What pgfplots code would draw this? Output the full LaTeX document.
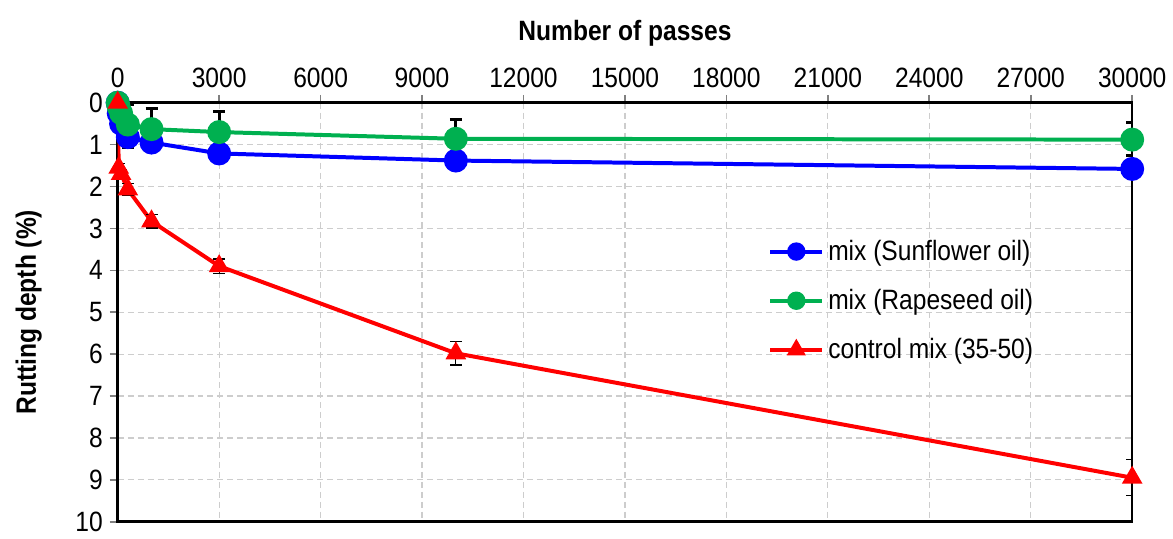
\documentclass[border=0pt]{standalone}
\usepackage{fontspec}
\setmainfont[FakeStretch=0.88]{Liberation Sans}
\usepackage{pgfplots}
\pgfplotsset{compat=1.18}
\definecolor{sblue}{RGB}{0,0,255}
\definecolor{sgreen}{RGB}{0,176,80}
\definecolor{sred}{RGB}{255,0,0}
\definecolor{gridgray}{RGB}{205,205,205}
\begin{document}
\begin{tikzpicture}[font=\fontsize{14}{16}\selectfont]
\begin{axis}[
  name=ax,
  scale only axis,
  width=508.5pt, height=210pt,
  xmin=0, xmax=30000, ymin=0, ymax=10,
  y dir=reverse,
  xtick={0,3000,...,30000},
  ytick={0,1,...,10},
  xtick pos=right, xticklabel pos=right,
  ytick pos=left,
  tick align=outside,
  major tick length=4pt,
  tick style={gray, line width=0.8pt},
  /pgf/number format/1000 sep={},
  /pgf/number format/assume math mode=true,
  scaled x ticks=false,
  grid=major,
  major grid style={gridgray, dash pattern=on 3pt off 2pt, line width=0.6pt},
  axis line style={black, line width=1.3pt},
  xlabel={\textbf{Number of passes}},
  ylabel={\textbf{Rutting depth (\%)}},
  xlabel style={yshift=4pt},
  ylabel style={yshift=10pt},
  legend style={draw=none, fill=none, at={(axis description cs:0.641,0.683)}, anchor=north west,
    row sep=9pt, font=\fontsize{14}{16}\selectfont, inner sep=0pt},
  legend cell align=left,
  legend image code/.code={\draw[mark repeat=2,mark phase=2,#1,mark size=3.6pt] plot coordinates {(0pt,0pt)(13pt,0pt)(26pt,0pt)};},
]
\addplot[sblue, line width=2pt, mark=*, mark size=5pt, mark options={solid},
  error bars/.cd, y dir=both, y explicit,
  error bar style={black, line width=1.5pt},
  error mark options={rotate=90, black, mark size=3pt, line width=1.5pt}]
  coordinates {
  (0,0) (30,0.25) (100,0.5) (300,0.82) +=(0,0.25) -=(0,0)
  (1000,0.95) +=(0,0) -=(0,0.3) (3000,1.21) +=(0,0) -=(0,0.3)
  (10000,1.38) +=(0,0) -=(0,0.3) (30000,1.58) +=(0,0) -=(0,0.32)
  };
\addlegendentry{mix (Sunflower oil)}
\addplot[sgreen, line width=2pt, mark=*, mark size=5pt, mark options={solid},
  error bars/.cd, y dir=both, y explicit,
  error bar style={black, line width=1.5pt},
  error mark options={rotate=90, black, mark size=3pt, line width=1.5pt}]
  coordinates {
  (0,0) (30,0.1) (100,0.25) (300,0.52) +=(0,0) -=(0,0.47)
  (1000,0.63) +=(0,0) -=(0,0.49) (3000,0.70) +=(0,0) -=(0,0.48)
  (10000,0.86) +=(0,0) -=(0,0.46) (30000,0.88) +=(0,0) -=(0,0.40)
  };
\addlegendentry{mix (Rapeseed oil)}
\addplot[sred, line width=2pt, mark=triangle*, mark size=4pt, mark options={solid},
  error bars/.cd, y dir=both, y explicit,
  error bar style={black, line width=0.6pt},
  error mark options={rotate=90, black, mark size=3pt, line width=0.6pt}]
  coordinates {
  (0,0) (30,1.55) +-(0,0.1) (100,1.7) +-(0,0.1) (300,2.07) +-(0,0.15)
  (1000,2.83) +-(0,0.16) (3000,3.9) +-(0,0.17)
  (10000,5.98) +-(0,0.28) (30000,8.95) +-(0,0.43)
  };
\addlegendentry{control mix (35-50)}
\end{axis}
\path ([xshift=-59pt,yshift=-4.5pt]ax.south west) rectangle ([xshift=19pt,yshift=51.5pt]ax.north east);
\end{tikzpicture}
\end{document}
